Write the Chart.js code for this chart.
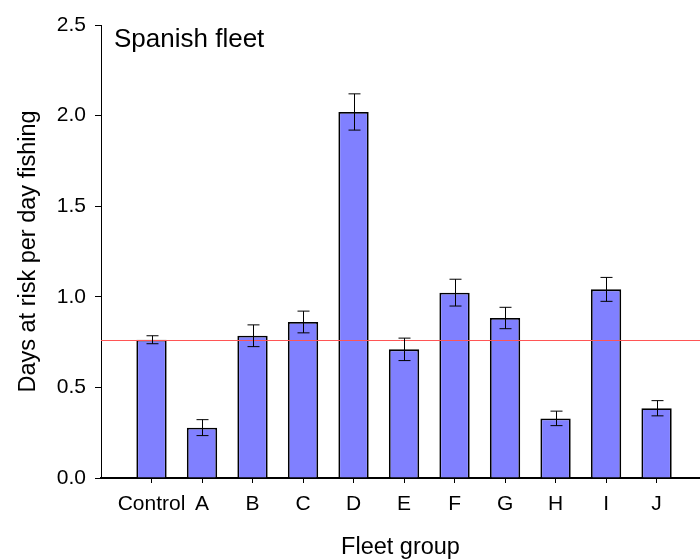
<!DOCTYPE html>
<html>
<head>
<meta charset="utf-8">
<script src="https://cdn.jsdelivr.net/npm/chart.js@4"></script>
<style>
  html, body { margin: 0; padding: 0; background: #fff; overflow: hidden; }
  #wrap { width: 700px; height: 559px; }
</style>
</head>
<body>
<div id="wrap"><canvas id="ChartFleet"></canvas></div>
<script>
const categories = ["Control", "A", "B", "C", "D", "E", "F", "G", "H", "I", "J"];
const means = [0.763, 0.278, 0.785, 0.861, 2.02, 0.71, 1.023, 0.883, 0.329, 1.041, 0.385];
const errors = [0.022, 0.044, 0.06, 0.06, 0.1, 0.062, 0.074, 0.059, 0.04, 0.066, 0.042];
const yTicks = [0, 0.5, 1.0, 1.5, 2.0, 2.5];
const controlLine = 0.763;
const panelTitle = "Spanish fleet";

const font = "'Liberation Sans', Arial, sans-serif";

// error bars, control reference line and the panel label
const extras = {
  id: "extras",
  afterDatasetsDraw(chart) {
    const ctx = chart.ctx;
    const y = chart.scales.y;
    const area = chart.chartArea;
    const meta = chart.getDatasetMeta(0);

    ctx.save();
    ctx.strokeStyle = "#ff5555";
    ctx.lineWidth = 1;
    const ly = Math.round(y.getPixelForValue(controlLine)) + 0.5;
    ctx.beginPath();
    ctx.moveTo(area.left, ly);
    ctx.lineTo(area.right, ly);
    ctx.stroke();

    ctx.strokeStyle = "#000";
    ctx.lineWidth = 1;
    meta.data.forEach((bar, i) => {
      const cx = Math.round(bar.x) + 0.5;
      const top = y.getPixelForValue(means[i] + errors[i]);
      const bot = y.getPixelForValue(means[i] - errors[i]);
      ctx.beginPath();
      ctx.moveTo(cx, top);
      ctx.lineTo(cx, bot);
      ctx.moveTo(cx - 6, top);
      ctx.lineTo(cx + 6, top);
      ctx.moveTo(cx - 6, bot);
      ctx.lineTo(cx + 6, bot);
      ctx.stroke();
    });

    ctx.fillStyle = "#000";
    ctx.font = "26px " + font;
    ctx.textBaseline = "middle";
    ctx.textAlign = "left";
    ctx.fillText(panelTitle, area.left + 13, 40);
    ctx.restore();
  }
};

new Chart(document.getElementById("ChartFleet"), {
  type: "bar",
  data: {
    datasets: [
      {
        data: categories.map((c, i) => ({ x: i + 1, y: means[i] })),
        backgroundColor: "#8080ff",
        borderColor: "#000",
        borderWidth: 1.8,
        barPercentage: 0.6,
        categoryPercentage: 1,
      },
    ],
  },
  options: {
    responsive: true,
    maintainAspectRatio: false,
    animation: false,
    layout: { padding: { top: 25, right: 0, bottom: 0, left: 0 } },
    plugins: {
      legend: { display: false },
      tooltip: { enabled: false },
    },
    scales: {
      x: {
        type: "linear",
        min: 0,
        max: 11.86,
        offset: false,
        afterFit(scale) { scale.height = 81; },
        afterBuildTicks(scale) {
          scale.ticks = categories.map((c, i) => ({ value: i + 1 }));
        },
        grid: { display: true, offset: false, drawOnChartArea: false, drawTicks: true, tickLength: 5, color: "#000", lineWidth: 1 },
        border: { display: true, color: "#000", width: 2 },
        ticks: {
          autoSkip: false,
          maxRotation: 0,
          padding: 9,
          color: "#000",
          font: { family: font, size: 21 },
          callback: (v) => categories[v - 1] || "",
        },
        title: {
          display: true,
          text: "Fleet group",
          color: "#000",
          font: { family: font, size: 23.5 },
          padding: { top: 0, bottom: -3 },
        },
      },
      y: {
        min: 0,
        max: 2.5,
        afterFit(scale) { scale.width = 101; },
        afterBuildTicks(scale) {
          scale.ticks = yTicks.map((v) => ({ value: v }));
        },
        grid: { display: true, drawOnChartArea: false, drawTicks: true, tickLength: 6, color: "#000", lineWidth: 1 },
        border: { display: true, color: "#000", width: 1 },
        ticks: {
          padding: 9,
          color: "#000",
          font: { family: font, size: 21 },
          callback: (v) => v.toFixed(1),
        },
        title: {
          display: true,
          text: "Days at risk per day fishing",
          color: "#000",
          font: { family: font, size: 23.5 },
          padding: { top: 14, bottom: 0 },
        },
      },
    },
  },
  plugins: [extras],
});
</script>
</body>
</html>
